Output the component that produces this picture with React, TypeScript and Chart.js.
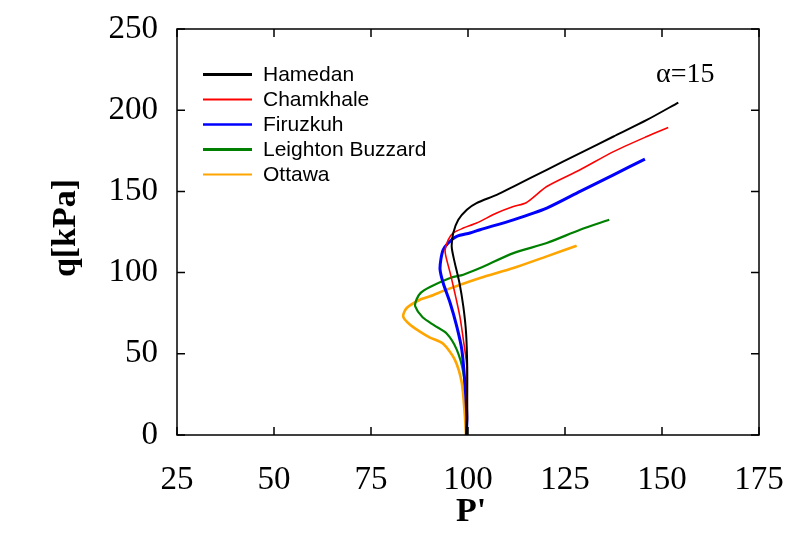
import React, { useEffect, useRef } from "react";
import { Chart, registerables } from "chart.js";

Chart.register(...registerables);

const seriesNames = ["Hamedan", "Chamkhale", "Firuzkuh", "Leighton Buzzard", "Ottawa"];
const seriesColors = ["#000000", "#ff0000", "#0000ff", "#008000", "#ffa500"];
const lineWidths = [2, 1.6, 3, 2.2, 2.6];
const legendWidths = [3, 2, 2.5, 3, 2];

const xTicks = [25, 50, 75, 100, 125, 150, 175];
const yTicks = [0, 50, 100, 150, 200, 250];

const hamedan: [number, number][] = [
  [99.6, 0], [99.8, 10], [99.8, 22], [99.8, 42], [99.5, 63], [98.8, 79], [97.8, 93.6],
  [96.4, 108], [95.8, 116], [96.2, 124.4], [97.5, 132.5], [99.7, 138.7], [102.2, 142.8],
  [107.4, 147.9], [111.7, 153], [120.3, 163.3], [128.9, 173.6], [137.5, 183.8],
  [146.1, 194], [154.2, 204.7],
];
const chamkhale: [number, number][] = [
  [99.6, 0], [99.7, 10], [99.7, 22], [99.7, 42], [98.8, 58.7], [97.9, 73], [96.6, 87.5],
  [95.4, 99.8], [94.3, 110], [94.1, 114], [94.9, 120.2], [96.2, 124.4], [98.8, 127.4],
  [102.2, 130.5], [107.4, 136.7], [111.7, 140.7], [115, 143], [120.3, 153], [128.9, 163.3],
  [137.5, 174.5], [146.1, 183.8], [151.6, 189.3],
];
const firuzkuh: [number, number][] = [
  [99.6, 0], [99.7, 11], [99.2, 32], [98.4, 52.6], [97.1, 66.9], [95.4, 81.3], [93.6, 93.6],
  [92.8, 101.8], [93, 108], [93.6, 114], [94.9, 118.2], [97.1, 122.3], [100.5, 124.4],
  [103.1, 126.4], [111.7, 132.5], [120.3, 139.7], [128.9, 150], [137.5, 160.2], [145.6, 169.9],
];
const leighton: [number, number][] = [
  [99.6, 0], [99.7, 17], [98.8, 38.3], [97.1, 52.6], [94.5, 62.5], [91.3, 67.5], [88.3, 72.5],
  [86.4, 79.2], [86.7, 83.3], [87.8, 87.5], [90.2, 91.1], [95.4, 96.7], [98.8, 98.7],
  [103.1, 102.8], [111.7, 112], [120.3, 118.2], [128.9, 126.4], [136.4, 132.5],
];
const ottawa: [number, number][] = [
  [99.5, 0], [99.2, 11.6], [98.4, 32], [96.6, 46.4], [93.6, 56.2], [90.2, 60], [87.4, 64],
  [85, 68], [83.3, 73], [84.2, 78.2], [87.6, 83.3], [90.2, 85.4], [94.5, 89.5], [103.1, 96.7],
  [111.7, 102.8], [120.3, 110], [128, 116.5],
];

const seriesData = [hamedan, chamkhale, firuzkuh, leighton, ottawa];

const framePlugin = {
  id: "framePlugin",
  afterDatasetsDraw(chart: any) {
    const { ctx, chartArea, scales } = chart;
    const { left, right, top, bottom } = chartArea;
    ctx.save();
    ctx.strokeStyle = "#000";
    ctx.lineWidth = 1.5;
    ctx.strokeRect(left, top, right - left, bottom - top);
    const tl = 8;
    ctx.beginPath();
    xTicks.forEach((v) => {
      const px = scales.x.getPixelForValue(v);
      ctx.moveTo(px, bottom);
      ctx.lineTo(px, bottom - tl);
      ctx.moveTo(px, top);
      ctx.lineTo(px, top + tl);
    });
    yTicks.forEach((v) => {
      const py = scales.y.getPixelForValue(v);
      ctx.moveTo(left, py);
      ctx.lineTo(left + tl, py);
      ctx.moveTo(right, py);
      ctx.lineTo(right - tl, py);
    });
    ctx.stroke();

    // legend
    ctx.font = "21px 'Liberation Sans'";
    ctx.textBaseline = "middle";
    ctx.textAlign = "left";
    seriesNames.forEach((name, i) => {
      const y = 74.5 + 25 * i;
      ctx.beginPath();
      ctx.strokeStyle = seriesColors[i];
      ctx.lineWidth = legendWidths[i];
      ctx.moveTo(203, y);
      ctx.lineTo(252, y);
      ctx.stroke();
      ctx.fillStyle = "#000";
      ctx.fillText(name, 263, y + 1);
    });

    // annotation
    ctx.font = "28px 'Liberation Serif'";
    ctx.fillStyle = "#000";
    ctx.textBaseline = "middle";
    ctx.fillText("\u03b1=15", 656, 75);

    // axis titles
    ctx.font = "bold 34px 'Liberation Serif'";
    ctx.textAlign = "center";
    ctx.fillText("P'", 471, 512);
    ctx.translate(66, 228);
    ctx.rotate(-Math.PI / 2);
    ctx.fillText("q[kPa]", 0, 0);
    ctx.restore();
  },
};

export default function App() {
  const canvasRef = useRef<HTMLCanvasElement | null>(null);
  useEffect(() => {
    if (!canvasRef.current) return;
    const chart = new Chart(canvasRef.current, {
      type: "scatter",
      data: {
        datasets: seriesNames.map((name, i) => ({
          label: name,
          data: seriesData[i].map(([x, y]) => ({ x, y })),
          showLine: true,
          borderColor: seriesColors[i],
          backgroundColor: seriesColors[i],
          borderWidth: lineWidths[i],
          pointRadius: 0,
          tension: 0.25,
          fill: false,
        })),
      },
      options: {
        animation: false,
        responsive: true,
        maintainAspectRatio: false,
        layout: { padding: { left: 0, top: 29, right: 31, bottom: 0 } },
        plugins: { legend: { display: false }, tooltip: { enabled: false } },
        scales: {
          x: {
            type: "linear",
            min: 25,
            max: 175,
            ticks: {
              stepSize: 25,
              color: "#000",
              padding: 26,
              font: { family: "'Liberation Serif'", size: 33 },
            },
            grid: { display: false, drawTicks: false },
            border: { display: false },
            afterFit: (s: any) => {
              s.height = 100;
              s.paddingLeft = 0;
              s.paddingRight = 0;
            },
          },
          y: {
            type: "linear",
            min: 0,
            max: 250,
            ticks: {
              stepSize: 50,
              color: "#000",
              padding: 19,
              font: { family: "'Liberation Serif'", size: 33 },
            },
            grid: { display: false, drawTicks: false },
            border: { display: false },
            afterFit: (s: any) => {
              s.width = 177;
              s.paddingTop = 0;
              s.paddingBottom = 0;
            },
          },
        },
      },
      plugins: [framePlugin],
    });
    return () => chart.destroy();
  }, []);
  return (
    <div style={{ position: "fixed", left: 0, top: 0, width: 790, height: 535, background: "#fff" }}>
      <canvas ref={canvasRef} />
    </div>
  );
}
